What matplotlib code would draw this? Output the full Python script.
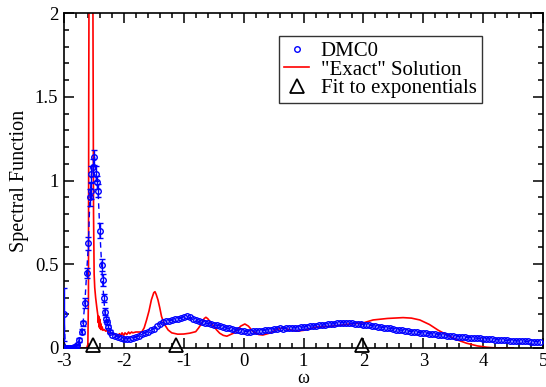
import matplotlib
matplotlib.use("Agg")
import matplotlib.pyplot as plt
from matplotlib.ticker import MultipleLocator
from matplotlib.lines import Line2D
import numpy as np

plt.rcParams["font.family"] = ["Liberation Serif", "DejaVu Serif"]
plt.rcParams["axes.unicode_minus"] = False

# ── DMC0 data: peak region (with error bars) ─────────────────────────────────
dmc_peak_w = [-3.0, -2.975, -2.95, -2.925, -2.9, -2.875, -2.85, -2.825, -2.8, -2.775,
              -2.745, -2.705, -2.68, -2.65, -2.62, -2.59, -2.566, -2.555, -2.54, -2.51,
              -2.49, -2.466, -2.45, -2.43, -2.40, -2.37, -2.354, -2.335, -2.316, -2.30,
              -2.287, -2.26, -2.232]
dmc_peak_a = [0.20, 0.0, 0.0, 0.0, 0.0, 0.0, 0.002, 0.004, 0.008, 0.02,
              0.048, 0.097, 0.147, 0.27, 0.446, 0.625, 0.90, 0.94, 1.037, 1.08,
              1.14, 1.04, 0.99, 0.94, 0.70, 0.496, 0.406, 0.30, 0.217, 0.17,
              0.157, 0.127, 0.097]
dmc_peak_err = [0.16, 0.0, 0.0, 0.0, 0.0, 0.0, 0.0, 0.0, 0.0, 0.005,
                0.01, 0.015, 0.015, 0.03, 0.03, 0.04, 0.05, 0.05, 0.05, 0.05,
                0.045, 0.045, 0.04, 0.04, 0.045, 0.035, 0.035, 0.025, 0.02, 0.015,
                0.012, 0.01, 0.008]

# ── DMC0 data: broad region, omega = -2.20 ... 4.95 step 0.05 ────────────────
dmc_broad_a = [
    0.080, 0.072, 0.066, 0.060, 0.055, 0.054, 0.056, 0.060, 0.065, 0.072,   # -2.20
    0.082, 0.090, 0.098, 0.106, 0.115, 0.128, 0.145, 0.152, 0.158, 0.163,   # -1.70
    0.166, 0.170, 0.174, 0.178, 0.185, 0.188, 0.182, 0.170, 0.164, 0.158,   # -1.20
    0.152, 0.150, 0.146, 0.142, 0.138, 0.135, 0.132, 0.125, 0.120, 0.116,   # -0.70
    0.112, 0.108, 0.106, 0.103,                                             # -0.20
    0.100, 0.098, 0.097, 0.099, 0.101, 0.103, 0.104, 0.106, 0.108, 0.110,   # 0.00
    0.112, 0.114, 0.116, 0.115, 0.117, 0.118, 0.119, 0.120, 0.120, 0.122,   # 0.50
    0.125, 0.127, 0.129, 0.131, 0.133, 0.134, 0.136, 0.138, 0.140, 0.142,   # 1.00
    0.144, 0.146, 0.149, 0.151, 0.150, 0.148, 0.147, 0.145, 0.143, 0.140,   # 1.50
    0.138, 0.137, 0.135, 0.132, 0.129, 0.126, 0.123, 0.121, 0.118, 0.116,   # 2.00
    0.113, 0.110, 0.107, 0.105, 0.103, 0.100, 0.098, 0.095, 0.093, 0.090,   # 2.50
    0.089, 0.087, 0.085, 0.083, 0.081, 0.079, 0.077, 0.075, 0.073, 0.071,   # 3.00
    0.070, 0.068, 0.067, 0.065, 0.064, 0.062, 0.061, 0.059, 0.058, 0.057,   # 3.50
    0.056, 0.054, 0.053, 0.051, 0.050, 0.048, 0.047, 0.046, 0.045, 0.044,   # 4.00
    0.043, 0.042, 0.041, 0.040, 0.040, 0.039, 0.038, 0.038, 0.037, 0.036,   # 4.50
]
dmc_broad_w = [round(-2.20 + 0.05 * i, 2) for i in range(len(dmc_broad_a))]

# ── "Exact" solution ─────────────────────────────────────────────────────────
exact_w = [-3.0, -2.62, -2.60, -2.59, -2.585, -2.575, -2.55, -2.525, -2.515, -2.505,
           -2.495, -2.485, -2.47, -2.45, -2.435, -2.425, -2.42, -2.415, -2.41, -2.405,
           -2.40, -2.395, -2.39, -2.385, -2.38, -2.37, -2.36, -2.35, -2.33, -2.30,
           -2.27, -2.25, -2.22, -2.20, -2.15, -2.10, -2.07, -2.05, -2.03, -2.00,
           -1.98, -1.95, -1.92, -1.90, -1.87, -1.85, -1.80, -1.75, -1.70, -1.66,
           -1.62, -1.58, -1.54, -1.50, -1.48, -1.46, -1.43, -1.40, -1.37, -1.32,
           -1.26, -1.20, -1.10, -1.00, -0.90, -0.80, -0.75, -0.70, -0.66, -0.63,
           -0.60, -0.56, -0.50, -0.45, -0.40, -0.34, -0.28, -0.17, -0.10, -0.05,
           0.02, 0.08, 0.15, 0.25, 0.32, 0.45, 0.55, 0.66, 0.75, 0.88,
           1.00, 1.10, 1.22, 1.40, 1.60, 1.77, 2.00, 2.16, 2.40, 2.66,
           2.80, 2.94, 3.10, 3.25, 3.39, 3.55, 3.72, 3.90, 4.06, 4.20,
           4.50]
exact_a = [0.0, 0.0, 0.02, 0.3, 1.5, 3.0, 4.0, 3.0, 2.0, 0.8,
           0.44, 0.36, 0.30, 0.24, 0.20, 0.15, 0.19, 0.13, 0.18, 0.12,
           0.17, 0.12, 0.15, 0.11, 0.14, 0.11, 0.125, 0.105, 0.11, 0.10,
           0.105, 0.09, 0.088, 0.085, 0.08, 0.075, 0.085, 0.07, 0.09, 0.075,
           0.09, 0.08, 0.095, 0.085, 0.095, 0.09, 0.095, 0.095, 0.095, 0.12,
           0.167, 0.22, 0.287, 0.33, 0.336, 0.32, 0.287, 0.24, 0.187, 0.14,
           0.107, 0.09, 0.082, 0.083, 0.088, 0.097, 0.12, 0.147, 0.175, 0.183,
           0.175, 0.157, 0.13, 0.107, 0.088, 0.075, 0.07, 0.088, 0.11, 0.13,
           0.143, 0.13, 0.10, 0.08, 0.077, 0.09, 0.11, 0.12, 0.11, 0.10,
           0.105, 0.115, 0.125, 0.128, 0.135, 0.143, 0.15, 0.167, 0.176, 0.181,
           0.178, 0.167, 0.14, 0.105, 0.078, 0.05, 0.028, 0.012, 0.004, 0.0,
           0.0]

# ── Fit to exponentials (positions) ──────────────────────────────────────────
fit_w = [-2.51, -1.13, 1.98]
fit_a = [0.02, 0.02, 0.02]

BLUE = "#0000ff"
RED = "#ff0000"

fig = plt.figure(figsize=(5.46, 3.87), dpi=100)
ax = fig.add_axes([0.117, 0.101, 0.878, 0.865])

all_w = dmc_peak_w + dmc_broad_w
all_a = dmc_peak_a + dmc_broad_a

# dashed line through DMC points
ax.plot(all_w, all_a, color=BLUE, lw=1.0, ls=(0, (4, 3)), zorder=3)
# error bars in the peak region
ax.errorbar(dmc_peak_w, dmc_peak_a, yerr=dmc_peak_err, fmt="none",
            ecolor=BLUE, elinewidth=1.0, capsize=2.5, capthick=1.0, zorder=3)
# open circles
ax.plot(all_w, all_a, ls="none", marker="o", ms=4, mfc="none",
        mec=BLUE, mew=1.0, zorder=4)

# exact solution
ax.plot(exact_w, exact_a, color=RED, lw=1.2, zorder=2)

# fit markers
ax.plot(fit_w, fit_a, ls="none", marker="^", ms=10, mfc="none",
        mec="black", mew=1.3, zorder=5, clip_on=False)

ax.set_xlim(-3, 5)
ax.set_ylim(0, 2)
ax.xaxis.set_major_locator(MultipleLocator(1))
ax.xaxis.set_minor_locator(MultipleLocator(0.2))
ax.yaxis.set_minor_locator(MultipleLocator(0.1))
ax.set_yticks([0, 0.5, 1, 1.5, 2])
ax.set_yticklabels(["0", "0.5", "1", "1.5", "2"])
ax.tick_params(which="both", direction="in", top=True, right=True,
               labelsize=13.5, width=1.1)
ax.tick_params(which="major", length=7, pad=4)
ax.tick_params(which="minor", length=3.5)
for s in ax.spines.values():
    s.set_linewidth(1.2)

ax.set_xlabel("ω", fontsize=13, labelpad=0)
ax.set_ylabel("Spectral Function", fontsize=14.5, labelpad=4)

handles = [
    Line2D([], [], ls="none", marker="o", ms=4, mfc="none", mec=BLUE, mew=1.0),
    Line2D([], [], color=RED, lw=1.2),
    Line2D([], [], ls="none", marker="^", ms=10, mfc="none", mec="black", mew=1.3),
]
leg = ax.legend(handles, ["DMC0", "\"Exact\" Solution", "Fit to exponentials"],
                loc="upper left", bbox_to_anchor=(0.449, 0.931), borderaxespad=0,
                fontsize=15, frameon=True, fancybox=False, handlelength=1.2,
                handletextpad=0.55, labelspacing=-0.05, borderpad=0.25)
leg.get_frame().set_edgecolor("black")
leg.get_frame().set_linewidth(1.0)

fig.savefig("out.png", dpi=100)
